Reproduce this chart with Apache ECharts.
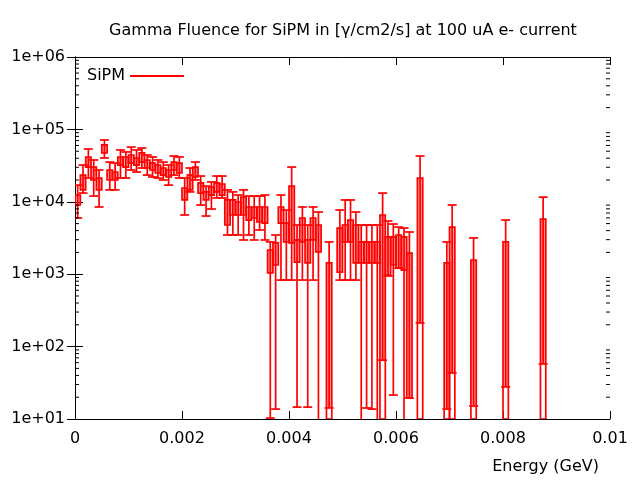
<!DOCTYPE html>
<html>
<head>
<meta charset="utf-8">
<script src="https://cdn.jsdelivr.net/npm/echarts@6/dist/echarts.min.js"></script>
<style>html,body{margin:0;padding:0;background:#fff}#c{width:640px;height:480px}</style>
</head>
<body>
<div id="c"></div>
<script>
// ---- data ----
var BIN_WIDTH = 0.0001;
// left edge of every non-empty energy bin (GeV)
var binLow = [0.0000,0.0001,0.0002,0.0003,0.0004,0.0005,0.0006,0.0007,0.0008,0.0009,
              0.0010,0.0011,0.0012,0.0013,0.0014,0.0015,0.0016,0.0017,0.0018,0.0019,
              0.0020,0.0021,0.0022,0.0023,0.0024,0.0025,0.0026,0.0027,0.0028,0.0029,
              0.0030,0.0031,0.0032,0.0033,0.0034,0.0035,0.0036,0.0037,0.0038,0.0039,
              0.0040,0.0041,0.0042,0.0043,0.0044,0.0045,0.0047,0.0049,
              0.0050,0.0051,0.0052,0.0053,0.0054,0.0055,0.0056,0.0057,0.0058,0.0059,
              0.0060,0.0061,0.0062,0.0064,0.0069,0.0070,0.0074,0.0080,0.0087];
// bin value (top of box)
var fluence = [12400,23400,41600,30200,21300,61000,27500,25800,41600,41600,
               44300,40300,47300,37800,34300,32200,29300,27500,35400,34300,
               15500,23400,30200,18200,13700,16000,18200,17600,10600,10600,
               9940,11600,8480,8480,8480,8480,2160,2700,8480,5090,
               16500,2970,5970,2970,5970,4780,1430,4340,
               4780,5600,4780,2790,2790,2790,2790,6570,3270,3270,
               3480,3270,1960,21300,1430,4480,1570,2790,5780];
// bottom of the box (0 = down to the axis)
var boxLow = [9030,14600,30200,20000,14600,47300,20000,20000,32200,30200,
              34300,32200,35400,29300,27500,25000,23400,22000,27500,25000,
              10600,14600,22000,13200,10600,12400,13700,12400,4780,6570,
              6570,6570,5600,5970,5260,5090,1040,1340,5090,2790,
              2700,1470,2790,1430,2970,2030,0,1070,
              2790,2790,1430,1430,1430,1430,1430,0,975,1340,
              1210,1140,19.5,0,0,0,0,0,0];
// lower end of the error bar (0 = below the axis)
var errLow = [5970,13200,21300,12000,8480,40300,14600,14600,21300,21300,
              27500,25800,29300,23400,22000,21300,20000,17000,23400,21300,
              6570,13700,20000,9030,6360,7950,11300,11300,3480,3480,
              3480,2970,3480,2970,4080,2970,10.3,13.7,830,830,
              830,14.6,830,14.6,830,0,14.2,830,
              830,830,830,0,14.2,13.7,0,65,944,21.4,
              1210,0,19.5,212,13.7,43.2,15.1,27.7,57.6];
// upper end of the error bar
var errHigh = [17000,32200,53600,37800,27500,71400,35400,34300,52000,48800,
               57000,52000,55300,44300,41600,37800,35400,32200,42900,41600,
               21300,29300,35400,22700,16500,18800,22700,22700,14600,13700,
               12400,14600,12000,12000,12000,12400,2790,3480,12400,7700,
               30200,4780,8480,4780,8480,7230,2790,7700,
               10600,10600,7230,4780,4780,4780,4780,13200,5430,4930,
               4480,4340,3830,42900,2790,9030,3170,5600,11600];
// minor ticks on the log axis
var minorTicks = [20,30,40,50,60,70,80,90,
                  200,300,400,500,600,700,800,900,
                  2000,3000,4000,5000,6000,7000,8000,9000,
                  20000,30000,40000,50000,60000,70000,80000,90000,
                  200000,300000,400000,500000,600000,700000,800000,900000];

var RED = '#ff0000';
var FILL = 'rgba(255,0,0,0.38)';
var LW = 1.7;
var FONT = 'DejaVu Sans';

var binData = binLow.map(function (x, i) {
  return [x, fluence[i], boxLow[i], errLow[i], errHigh[i]];
});

function renderBin(params, api) {
  var cs = params.coordSys;
  var yTop = cs.y, yBot = cs.y + cs.height;
  var x0 = api.value(0), x1 = x0 + BIN_WIDTH;
  function py(v) { return v > 0 ? api.coord([x0, v])[1] : yBot + 20; }
  function cl(p) { return Math.max(yTop, Math.min(yBot, p)); }
  var pl = api.coord([x0, 100])[0], pr = api.coord([x1, 100])[0], pc = (pl + pr) / 2;
  var top = api.value(1), bLo = api.value(2), eLo = api.value(3), eHi = api.value(4);
  var pTop = cl(py(top));
  var pBox = cl(py(bLo));
  var pFill = cl(py(Math.max(bLo, eLo)));
  var pELo = py(eLo), pEHi = py(eHi);
  var capW = 4.5;
  var ch = [];
  ch.push({type: 'rect', shape: {x: pl, y: pTop, width: pr - pl, height: pFill - pTop},
           style: {fill: FILL, stroke: 'none'}});
  ch.push({type: 'rect', shape: {x: pl, y: pTop, width: pr - pl, height: pBox - pTop},
           style: {fill: 'none', stroke: RED, lineWidth: LW}});
  ch.push({type: 'line', shape: {x1: pc, y1: cl(pELo), x2: pc, y2: cl(pEHi)},
           style: {stroke: RED, lineWidth: LW}});
  if (pEHi >= yTop && pEHi <= yBot) {
    ch.push({type: 'line', shape: {x1: pc - capW, y1: pEHi, x2: pc + capW, y2: pEHi},
             style: {stroke: RED, lineWidth: LW}});
  }
  if (eLo > 0 && pELo >= yTop && pELo <= yBot) {
    ch.push({type: 'line', shape: {x1: pc - capW, y1: pELo, x2: pc + capW, y2: pELo},
             style: {stroke: RED, lineWidth: LW}});
  }
  return {type: 'group', children: ch};
}

function renderMinor(params, api) {
  var cs = params.coordSys;
  var p = api.coord([0.005, api.value(1)])[1];
  var L = 4;
  return {type: 'group', children: [
    {type: 'line', shape: {x1: cs.x, y1: p, x2: cs.x + L, y2: p}, style: {stroke: '#000', lineWidth: 1}},
    {type: 'line', shape: {x1: cs.x + cs.width - L, y1: p, x2: cs.x + cs.width, y2: p}, style: {stroke: '#000', lineWidth: 1}}
  ]};
}

var axisLineStyle = {show: true, lineStyle: {color: '#000', width: 1}};
var tickStyle = {show: true, inside: true, length: 8, lineStyle: {color: '#000', width: 1}};

var chart = echarts.init(document.getElementById('c'), null, {renderer: 'canvas'});
chart.setOption({
  animation: false,
  backgroundColor: '#fff',
  color: [RED],
  title: {
    text: 'Gamma Fluence for SiPM in [\u03b3/cm2/s] at 100 uA e- current',
    left: 338, top: 18, textAlign: 'center',
    textStyle: {color: '#000', fontSize: 16, fontWeight: 'normal', fontFamily: FONT}
  },
  legend: {
    data: [{name: 'SiPM', icon: 'rect'}],
    left: 82, top: 63, align: 'right',
    itemWidth: 54, itemHeight: 2,
    textStyle: {color: '#000', fontSize: 16, fontFamily: FONT},
    selectedMode: false
  },
  grid: {left: 75, right: 30, top: 57, bottom: 61, containLabel: false},
  xAxis: [
    {type: 'value', position: 'bottom', min: 0, max: 0.01, interval: 0.002,
     axisLine: axisLineStyle, axisTick: tickStyle, splitLine: {show: false},
     axisLabel: {color: '#000', fontSize: 16, fontFamily: FONT, margin: 12}},
    {type: 'value', position: 'top', min: 0, max: 0.01, interval: 0.002,
     axisLine: axisLineStyle, axisTick: tickStyle, splitLine: {show: false},
     axisLabel: {show: false}}
  ],
  yAxis: [
    {type: 'log', logBase: 10, min: 10, max: 1000000, position: 'left',
     axisLine: axisLineStyle, axisTick: tickStyle, splitLine: {show: false},
     axisLabel: {color: '#000', fontSize: 16, fontFamily: FONT, margin: 10,
       formatter: function (v) {
         var e = Math.round(Math.log10(v));
         return '1e+' + (e < 10 ? '0' : '') + e;
       }}},
    {type: 'log', logBase: 10, min: 10, max: 1000000, position: 'right',
     axisLine: axisLineStyle, axisTick: tickStyle, splitLine: {show: false},
     axisLabel: {show: false}}
  ],
  graphic: [{
    type: 'text', right: 41, top: 459,
    style: {text: 'Energy (GeV)', fill: '#000', fontSize: 16, fontFamily: FONT}
  }],
  series: [
    {name: 'SiPM', type: 'custom', renderItem: renderBin, data: binData,
     encode: {x: 0, y: 1}, clip: true, xAxisIndex: 0, yAxisIndex: 0, z: 2},
    {name: 'minor', type: 'custom', renderItem: renderMinor,
     data: minorTicks.map(function (v) { return [0.005, v]; }),
     encode: {x: 0, y: 1}, xAxisIndex: 0, yAxisIndex: 0, silent: true, z: 3}
  ]
});
</script>
</body>
</html>
